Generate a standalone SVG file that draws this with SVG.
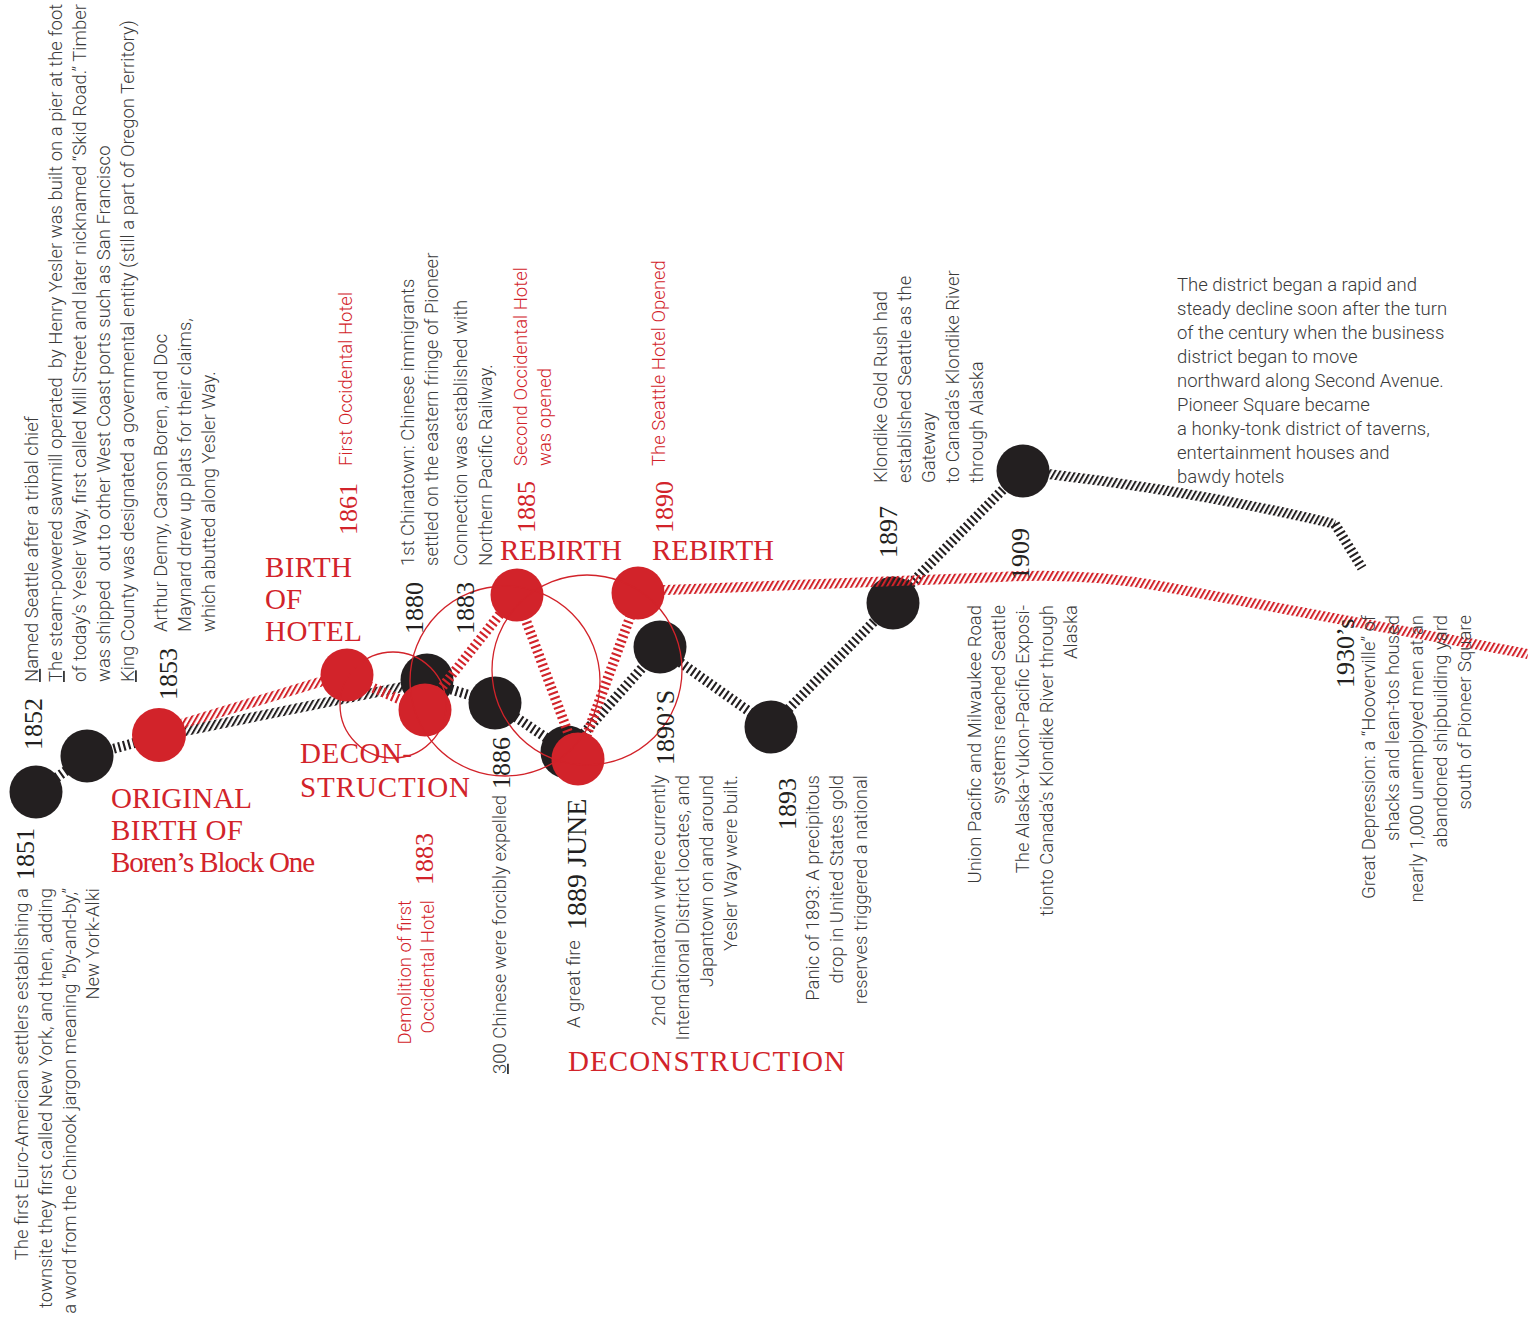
<svg xmlns="http://www.w3.org/2000/svg" width="1528" height="1321" viewBox="0 0 1528 1321">
<style>
.t{font-family:Roboto,"Liberation Sans",sans-serif;font-weight:300;font-size:18.5px;fill:#3a3a3a}
.tr{font-family:Roboto,"Liberation Sans",sans-serif;font-weight:300;font-size:18.5px;fill:#d2232a}
.y{font-family:"Liberation Serif","DejaVu Serif",serif;font-size:26px;fill:#231f20}
.yr{font-family:"Liberation Serif","DejaVu Serif",serif;font-size:26px;fill:#d2232a}
.lab{font-family:"Liberation Serif","DejaVu Serif",serif;font-size:29px;fill:#d2232a}
.hb{fill:none;stroke:#231f20;stroke-width:10;stroke-dasharray:2.1 2.9}
.hr{fill:none;stroke:#d2232a;stroke-width:10;stroke-dasharray:2.1 2.9}
.pb{fill:none;stroke:url(#hatchB);stroke-width:10}
.pr{fill:none;stroke:url(#hatchR);stroke-width:10}
.nb{fill:#231f20}
.nr{fill:#d2232a}
.ring{fill:none;stroke:#d2232a;stroke-width:1.3}
.u{text-decoration:underline}
</style>
<defs>
<pattern id="hatchB" patternUnits="userSpaceOnUse" width="4.4" height="10" patternTransform="rotate(30)"><rect width="2" height="10" fill="#231f20"/></pattern>
<pattern id="hatchR" patternUnits="userSpaceOnUse" width="4.4" height="10" patternTransform="rotate(30)"><rect width="2" height="10" fill="#d2232a"/></pattern>
</defs>

<g id="connectors">
<g id="connectors-black">
<path class="hb" d="M36,792 L87,756 L160,736"/>
<path class="pb" d="M160,736 L427,682"/>
<path class="hb" d="M427,682 L495,703"/>
<path class="hb" d="M495,703 L567,752"/>
<path class="hb" d="M567,752 L660,648"/>
<path class="hb" d="M660,648 L771,727"/>
<path class="hb" d="M771,727 L893,602"/>
<path class="hb" d="M893,602 L1022,470"/>
<path class="pb" d="M1022,470 L1048,474 Q1200,492 1335,524"/>
<path class="hb" d="M1335,524 L1362,568"/>
</g>
</g>

<g id="node-1851"><circle class="nb" cx="36" cy="792" r="26.5"/></g>
<g id="node-1852"><circle class="nb" cx="87" cy="756" r="26.5"/></g>
<g id="node-1880"><circle class="nb" cx="427" cy="680" r="26.5"/></g>
<g id="node-1886"><circle class="nb" cx="495" cy="703" r="26.5"/></g>
<g id="node-1889"><circle class="nb" cx="567" cy="752" r="26.5"/></g>
<g id="node-1890s"><circle class="nb" cx="660" cy="647" r="26.5"/></g>
<g id="node-1893"><circle class="nb" cx="771" cy="727" r="26.5"/></g>
<g id="node-1897"><circle class="nb" cx="893" cy="603" r="26.5"/></g>
<g id="node-1909"><circle class="nb" cx="1023" cy="471" r="26.5"/></g>

<g id="connectors-red">
<path class="pr" d="M165,729 L346,674"/>
<path class="hr" d="M346,676 L424,710"/>
<path class="hr" d="M424,710 L516,594"/>
<path class="hr" d="M516,594 L578,759"/>
<path class="hr" d="M578,759 L639,593"/>
<path class="pr" d="M639,591 L1000,577 Q1080,572 1160,586 L1528,654"/>
</g>

<g id="node-r1853"><circle class="nr" cx="159" cy="735" r="27"/></g>
<g id="node-r1861"><circle class="nr" cx="347" cy="675" r="26.5"/></g>
<g id="node-r1883"><circle class="nr" cx="425" cy="710" r="26.5"/></g>
<g id="node-r1885"><circle class="nr" cx="517" cy="595" r="26.5"/></g>
<g id="node-r1889"><circle class="nr" cx="578" cy="759" r="26.5"/></g>
<g id="node-r1890"><circle class="nr" cx="638" cy="593" r="26.5"/></g>

<g id="rings">
<circle class="ring" cx="393" cy="705" r="53"/>
<circle class="ring" cx="505" cy="681" r="95"/>
<circle class="ring" cx="587" cy="670" r="95"/>
</g>

<g id="text-1852">
<text class="y" transform="translate(42,750) rotate(-90)">1852</text>
<text class="t" transform="translate(38,682) rotate(-90)"><tspan class="u">N</tspan>amed Seattle after a tribal chief</text>
<text class="t" xml:space="preserve" transform="translate(62,682) rotate(-90)"><tspan class="u">T</tspan>he steam-powered sawmill operated  by Henry Yesler was built on a pier at the foot</text>
<text class="t" transform="translate(86,682) rotate(-90)">of today’s Yesler Way, first called Mill Street and later nicknamed “Skid Road.” Timber</text>
<text class="t" xml:space="preserve" transform="translate(110,682) rotate(-90)">was shipped  out to other West Coast ports such as San Francisco</text>
<text class="t" transform="translate(134,682) rotate(-90)"><tspan class="u">K</tspan>ing County was designated a governmental entity (still a part of Oregon Territory)</text>
</g>

<g id="text-1853">
<text class="y" transform="translate(177,700) rotate(-90)">1853</text>
<text class="t" transform="translate(167,632) rotate(-90)">Arthur Denny, Carson Boren, and Doc</text>
<text class="t" transform="translate(191,632) rotate(-90)">Maynard drew up plats for their claims,</text>
<text class="t" transform="translate(215,632) rotate(-90)">which abutted along Yesler Way.</text>
</g>

<g id="text-1861">
<text class="yr" transform="translate(357,535) rotate(-90)">1861</text>
<text class="tr" transform="translate(352,466) rotate(-90)">First Occidental Hotel</text>
<text class="lab" x="265" y="577" textLength="87">BIRTH</text>
<text class="lab" x="265" y="609">OF</text>
<text class="lab" x="265" y="641" textLength="97">HOTEL</text>
</g>

<g id="text-1880">
<text class="y" transform="translate(423,634) rotate(-90)">1880</text>
<text class="t" transform="translate(414,566) rotate(-90)">1st Chinatown: Chinese immigrants</text>
<text class="t" transform="translate(438,566) rotate(-90)">settled on the eastern fringe of Pioneer</text>
</g>

<g id="text-1883">
<text class="y" transform="translate(474,634) rotate(-90)">1883</text>
<text class="t" transform="translate(467,566) rotate(-90)">Connection was established with</text>
<text class="t" transform="translate(492,566) rotate(-90)">Northern Pacific Railway.</text>
</g>

<g id="text-1885">
<text class="yr" transform="translate(535,533) rotate(-90)">1885</text>
<text class="tr" transform="translate(527,466) rotate(-90)">Second Occidental Hotel</text>
<text class="tr" transform="translate(551,466) rotate(-90)">was opened</text>
<text class="lab" x="500" y="560" textLength="122">REBIRTH</text>
</g>

<g id="text-1890">
<text class="yr" transform="translate(673,533) rotate(-90)">1890</text>
<text class="tr" transform="translate(665,466) rotate(-90)">The Seattle Hotel Opened</text>
<text class="lab" x="652" y="560" textLength="122">REBIRTH</text>
</g>

<g id="text-decon">
<text class="lab" x="300" y="763" textLength="112">DECON-</text>
<text class="lab" x="300" y="797" textLength="170">STRUCTION</text>
</g>

<g id="text-original">
<text class="lab" x="111" y="808" textLength="141">ORIGINAL</text>
<text class="lab" x="111" y="840" textLength="132">BIRTH OF</text>
<text class="lab" x="111" y="872" textLength="204">Boren’s Block One</text>
</g>

<g id="text-1851">
<text class="y" transform="translate(34,880) rotate(-90)">1851</text>
<text class="t" text-anchor="end" transform="translate(28,888) rotate(-90)">The first Euro-American settlers establishing a</text>
<text class="t" text-anchor="end" transform="translate(52,888) rotate(-90)">townsite they first called New York, and then, adding</text>
<text class="t" text-anchor="end" transform="translate(76,888) rotate(-90)">a word from the Chinook jargon meaning “by-and-by,”</text>
<text class="t" text-anchor="end" transform="translate(99,888) rotate(-90)">New York-Alki</text>
</g>

<g id="text-1883-demolition">
<text class="tr" text-anchor="end" transform="translate(411,900) rotate(-90)">Demolition of first</text>
<text class="tr" text-anchor="end" transform="translate(434,900) rotate(-90)">Occidental Hotel</text>
<text class="yr" transform="translate(433,885) rotate(-90)">1883</text>
</g>

<g id="text-1886">
<text class="t" transform="translate(506,1074) rotate(-90)"><tspan class="u">3</tspan>00 Chinese were forcibly expelled</text>
<text class="y" transform="translate(510,789) rotate(-90)">1886</text>
</g>

<g id="text-1889">
<text class="t" transform="translate(580,1028) rotate(-90)">A great fire</text>
<text class="y" style="font-size:28px" transform="translate(586,930) rotate(-90)">1889 JUNE</text>
<text class="lab" x="568" y="1071" textLength="277">DECONSTRUCTION</text>
</g>

<g id="text-1890s">
<text class="y" transform="translate(674,765) rotate(-90)">1890’S</text>
<text class="t" text-anchor="end" transform="translate(665,775) rotate(-90)">2nd Chinatown where currently</text>
<text class="t" text-anchor="end" transform="translate(689,775) rotate(-90)">International District locates, and</text>
<text class="t" text-anchor="end" transform="translate(713,775) rotate(-90)">Japantown on and around</text>
<text class="t" text-anchor="end" transform="translate(737,775) rotate(-90)">Yesler Way were built.</text>
</g>

<g id="text-1893">
<text class="y" transform="translate(796,830) rotate(-90)">1893</text>
<text class="t" text-anchor="end" transform="translate(819,775) rotate(-90)">Panic of 1893: A precipitous</text>
<text class="t" text-anchor="end" transform="translate(843,775) rotate(-90)">drop in United States gold</text>
<text class="t" text-anchor="end" transform="translate(867,775) rotate(-90)">reserves triggered a national</text>
</g>

<g id="text-1897">
<text class="y" transform="translate(897,558) rotate(-90)">1897</text>
<text class="t" transform="translate(887,483) rotate(-90)">Klondike Gold Rush had</text>
<text class="t" transform="translate(911,483) rotate(-90)">established Seattle as the</text>
<text class="t" transform="translate(935,483) rotate(-90)">Gateway</text>
<text class="t" transform="translate(959,483) rotate(-90)">to Canada’s Klondike River</text>
<text class="t" transform="translate(983,483) rotate(-90)">through Alaska</text>
</g>

<g id="text-1909">
<text class="y" transform="translate(1029,580) rotate(-90)">1909</text>
<text class="t" text-anchor="end" transform="translate(981,605) rotate(-90)">Union Pacific and Milwaukee Road</text>
<text class="t" text-anchor="end" transform="translate(1005,605) rotate(-90)">systems reached Seattle</text>
<text class="t" text-anchor="end" transform="translate(1029,605) rotate(-90)">The Alaska-Yukon-Pacific Exposi-</text>
<text class="t" text-anchor="end" transform="translate(1053,605) rotate(-90)">tionto Canada’s Klondike River through</text>
<text class="t" text-anchor="end" transform="translate(1077,605) rotate(-90)">Alaska</text>
</g>

<g id="text-decline">
<text class="t" x="1177" y="291">The district began a rapid and</text>
<text class="t" x="1177" y="315">steady decline soon after the turn</text>
<text class="t" x="1177" y="339">of the century when the business</text>
<text class="t" x="1177" y="363">district began to move</text>
<text class="t" x="1177" y="387">northward along Second Avenue.</text>
<text class="t" x="1177" y="411">Pioneer Square became</text>
<text class="t" x="1177" y="435">a honky-tonk district of taverns,</text>
<text class="t" x="1177" y="459">entertainment houses and</text>
<text class="t" x="1177" y="483">bawdy hotels</text>
</g>

<g id="text-1930s">
<text class="y" transform="translate(1354,688) rotate(-90)">1930’s</text>
<text class="t" text-anchor="end" transform="translate(1375,615) rotate(-90)">Great Depression: a “Hooverville” of</text>
<text class="t" text-anchor="end" transform="translate(1399,615) rotate(-90)">shacks and lean-tos housed</text>
<text class="t" text-anchor="end" transform="translate(1423,615) rotate(-90)">nearly 1,000 unemployed men at an</text>
<text class="t" text-anchor="end" transform="translate(1447,615) rotate(-90)">abandoned shipbuilding yard</text>
<text class="t" text-anchor="end" transform="translate(1471,615) rotate(-90)">south of Pioneer Square</text>
</g>
</svg>
